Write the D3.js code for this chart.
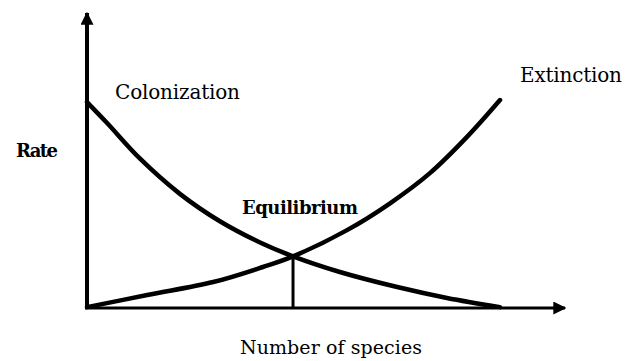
<!DOCTYPE html>
<html>
<head>
<meta charset="utf-8">
<script src="https://cdn.jsdelivr.net/npm/d3@7"></script>
<style>
  body { margin: 0; background: #fff; }
</style>
</head>
<body>
<div id="chart"></div>
<script>
// Number of species (0-100) vs rate (0-100)
const colonizationX = [0, 4.2, 11.1, 19.5, 27.8, 36.2, 43.1, 52.9, 64.9, 75.3, 86.4];
const colonizationY = [69.8, 62.7, 50.6, 38.6, 29.4, 22.2, 17.5, 12.2, 7.1, 3.4, 0.3];

const extinctionX = [0, 12.6, 26.4, 36.8, 43.1, 54.4, 63.4, 71.8, 79.5, 86.4];
const extinctionY = [0.3, 4.4, 8.8, 13.9, 17.5, 26.4, 35.5, 45.8, 58.0, 70.5];

const equilibrium = [43.1, 17.5];

const width = 635, height = 361;
const margin = { top: 13, right: 70, bottom: 53, left: 87 };
const serif = "'DejaVu Serif', 'Liberation Serif', serif";

const svg = d3.select("#chart").append("svg")
    .attr("width", width)
    .attr("height", height);

const x = d3.scaleLinear()
    .domain([0, 100])
    .range([margin.left, width - margin.right]);
const y = d3.scaleLinear()
    .domain([0, 100])
    .range([height - margin.bottom, margin.top]);

// arrow heads
svg.append("defs").append("marker")
    .attr("id", "arrow")
    .attr("viewBox", "0 0 10 10")
    .attr("refX", 9)
    .attr("refY", 5)
    .attr("markerUnits", "userSpaceOnUse")
    .attr("markerWidth", 13)
    .attr("markerHeight", 13)
    .attr("orient", "auto")
    .append("path")
    .attr("d", "M0,0 L10,5 L0,10 Z")
    .attr("fill", "#000");

// axes
svg.append("line")
    .attr("x1", x(0)).attr("y1", y(0) + 1)
    .attr("x2", x(0)).attr("y2", y(100))
    .attr("stroke", "#000")
    .attr("stroke-width", 4)
    .attr("marker-end", "url(#arrow)");

svg.append("line")
    .attr("x1", x(0) - 2).attr("y1", y(0))
    .attr("x2", x(100)).attr("y2", y(0))
    .attr("stroke", "#000")
    .attr("stroke-width", 3)
    .attr("marker-end", "url(#arrow)");

const line = d3.line()
    .x(d => x(d[0]))
    .y(d => y(d[1]))
    .curve(d3.curveCatmullRom.alpha(0.5));

const colonization = colonizationX.map((v, i) => [v, colonizationY[i]]);
const extinction = extinctionX.map((v, i) => [v, extinctionY[i]]);

svg.selectAll("path.curve")
    .data([colonization, extinction])
    .enter()
    .append("path")
    .attr("class", "curve")
    .attr("d", line)
    .attr("fill", "none")
    .attr("stroke", "#000")
    .attr("stroke-width", 4.5)
    .attr("stroke-linecap", "round");

// equilibrium drop line
svg.append("line")
    .attr("x1", x(equilibrium[0])).attr("y1", y(equilibrium[1]))
    .attr("x2", x(equilibrium[0])).attr("y2", y(0))
    .attr("stroke", "#000")
    .attr("stroke-width", 3);

// labels
function label(text, px, py, len, size, bold) {
    svg.append("text")
        .attr("x", px)
        .attr("y", py)
        .attr("textLength", len)
        .attr("lengthAdjust", "spacing")
        .attr("font-family", serif)
        .attr("font-size", size)
        .attr("font-weight", bold ? "bold" : "normal")
        .attr("fill", "#000")
        .text(text);
}

label("Colonization", 115, 99, 125, 20, false);
label("Extinction", 520, 82, 102, 20, false);
label("Rate", 16, 157, 42, 18, true);
label("Equilibrium", 242, 214, 116, 18, true);
label("Number of species", 240, 354, 182, 19, false);
</script>
</body>
</html>
